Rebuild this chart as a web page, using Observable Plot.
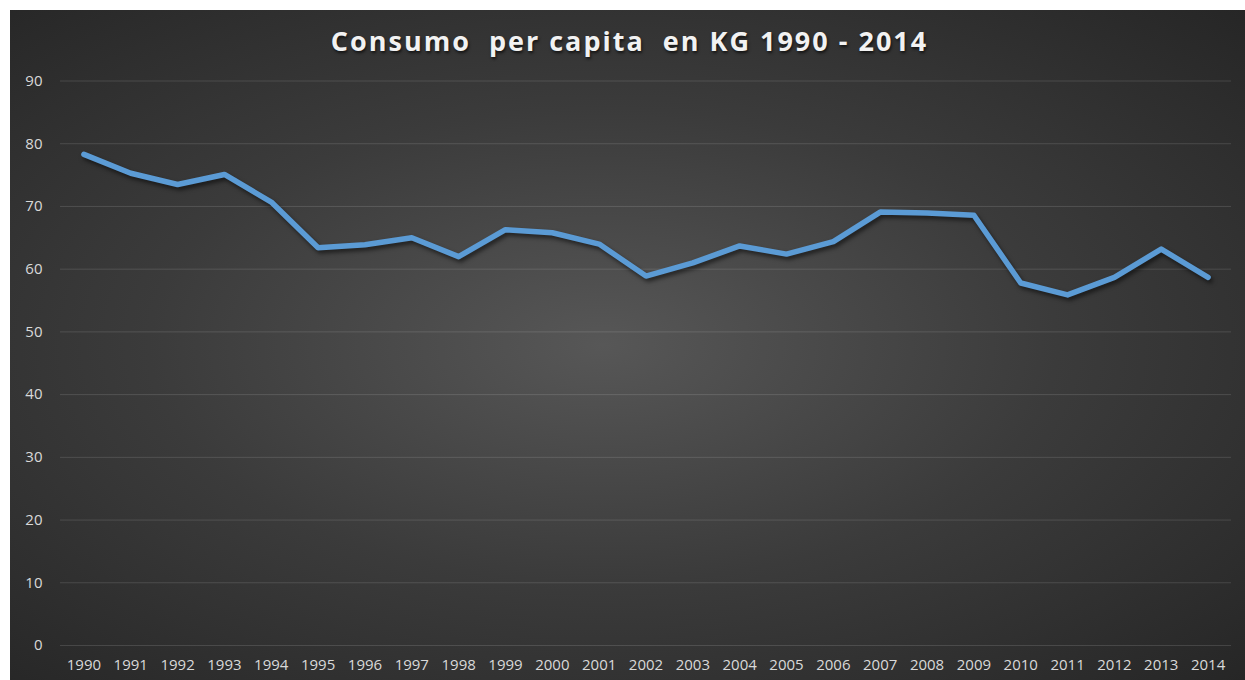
<!DOCTYPE html>
<html>
<head>
<meta charset="utf-8">
<script src="https://cdn.jsdelivr.net/npm/d3@7"></script>
<script src="https://cdn.jsdelivr.net/npm/@observablehq/plot@0.6"></script>
<style>
  html, body { margin: 0; padding: 0; background: #ffffff; overflow: hidden; }
  #wrap {
    position: absolute; left: 10px; top: 10px; width: 1235px; height: 670px;
    background: radial-gradient(ellipse farthest-corner at 48% 50%, #575757 0%, #3b3b3b 50%, #262626 100%);
    overflow: hidden;
  }
  #title {
    height: 60px; line-height: 61px; text-align: center;
    font-family: "Open Sans", sans-serif; font-weight: 700; font-size: 27px;
    letter-spacing: 2px; color: #f2f2f2;
    text-shadow: 1px 2px 3px rgba(0,0,0,0.65);
    white-space: pre;
    padding-left: 4px;
  }
  #chart svg { display: block; }
</style>
</head>
<body>
<div id="wrap">
  <div id="title">Consumo  per capita  en KG 1990 - 2014</div>
  <div id="chart"></div>
</div>
<script>
const years = [1990,1991,1992,1993,1994,1995,1996,1997,1998,1999,2000,2001,2002,2003,2004,2005,2006,2007,2008,2009,2010,2011,2012,2013,2014];
const consumo = [78.3,75.3,73.5,75.1,70.7,63.4,63.9,65.0,62.0,66.3,65.8,64.0,58.9,61.0,63.7,62.4,64.4,69.1,68.95,68.6,57.8,55.9,58.7,63.2,58.7];
const yTicks = [0,10,20,30,40,50,60,70,80,90];

const data = years.map((y, i) => ({year: y, value: consumo[i]}));

const chart = Plot.plot({
  width: 1235,
  height: 610,
  marginLeft: 50,
  marginRight: 14,
  marginTop: 10.5,
  marginBottom: 35,
  style: {background: "transparent", color: "#d9d9d9", fontFamily: "Open Sans, sans-serif", fontSize: "15px"},
  x: {type: "linear", domain: [years[0] - 0.5, years[years.length - 1] + 0.5], ticks: years, tickFormat: d => String(d), label: null, tickSize: 0, tickPadding: 14},
  y: {domain: [0, 90], ticks: yTicks, label: null, tickSize: 0, tickPadding: 18},
  marks: [
    Plot.gridY(yTicks, {stroke: "#ffffff", strokeOpacity: 0.13, strokeWidth: 1}),
    Plot.line(data, {x: "year", y: "value", stroke: "#5b9bd5", strokeWidth: 5.5, strokeLinejoin: "round", strokeLinecap: "round"})
  ]
});
document.getElementById("chart").appendChild(chart);
d3.select(chart).selectAll('g[aria-label="line"] path')
  .style("filter", "drop-shadow(2px 3px 2px rgba(0,0,0,0.55))");
d3.select(chart).selectAll('g[aria-label="x-axis tick label"] text, g[aria-label="y-axis tick label"] text')
  .attr("fill", "#d9d9d9");
d3.select(chart).selectAll('g[aria-label="x-axis tick label"], g[aria-label="y-axis tick label"]')
  .attr("font-size", "15px");
</script>
</body>
</html>
